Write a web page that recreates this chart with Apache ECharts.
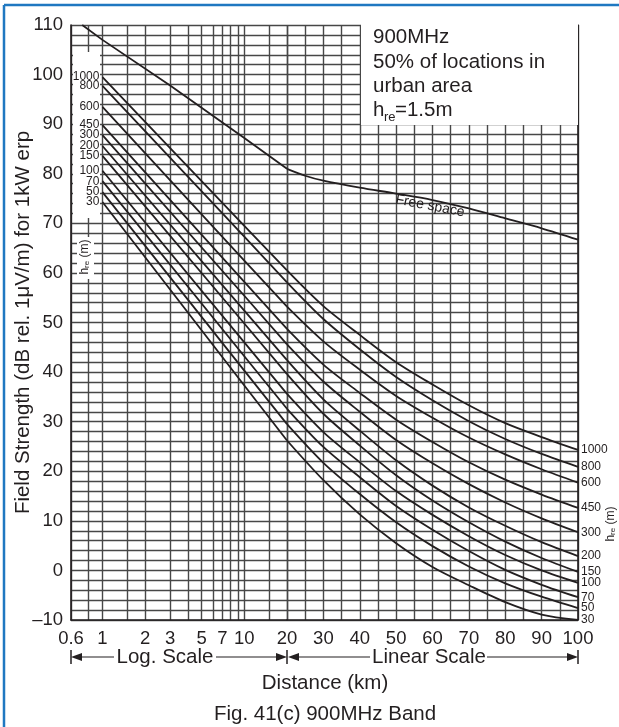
<!DOCTYPE html>
<html>
<head>
<meta charset="utf-8">
<script src="https://cdn.jsdelivr.net/npm/echarts@6/dist/echarts.min.js"></script>
<style>
  html, body { margin: 0; padding: 0; background: #fff; }
  #main { width: 619px; height: 727px; }
</style>
</head>
<body>
<div id="main"></div>
<script>
// base station antenna heights h_re (m), one curve each
var heights = ['1000', '800', '600', '450', '300', '200', '150', '100', '70', '50', '30'];

// log part of the x axis (0.6 .. 20 km)
var logDist = [1, 10, 20];
var logVals = [
  [99.5, 69.5, 60.5],
  [97.7, 67.3, 58.1],
  [93.5, 62.5, 53.2],
  [89.8, 58.2, 48.7],
  [87.8, 55.4, 45.6],
  [85.6, 52.4, 42.4],
  [83.6, 49.8, 39.6],
  [80.6, 46.0, 35.6],
  [78.5, 43.2, 32.6],
  [76.3, 40.3, 29.5],
  [74.3, 37.3, 26.2]
];

// linear part of the x axis (20 .. 100 km)
var linDist = [20, 30, 40, 50, 60, 70, 80, 90, 100];
var linVals = [
  [60.5, 53.3, 47.5, 42.0, 37.5, 33.3, 29.7, 26.9, 24.3],
  [58.1, 50.7, 44.6, 39.0, 34.3, 30.1, 26.5, 23.5, 20.9],
  [53.2, 46.2, 40.5, 35.2, 30.8, 26.8, 23.4, 20.4, 17.7],
  [48.7, 41.5, 35.8, 30.4, 25.9, 21.8, 18.3, 15.3, 12.6],
  [45.6, 38.1, 32.0, 26.3, 21.6, 17.4, 13.7, 10.5, 7.7],
  [42.4, 34.5, 28.2, 22.2, 17.1, 12.7, 9.0, 5.7, 2.9],
  [39.6, 31.6, 25.2, 19.2, 14.1, 9.7, 5.8, 2.5, -0.3],
  [35.6, 27.9, 21.8, 16.0, 11.2, 6.9, 3.1, 0.0, -2.5],
  [32.6, 24.9, 18.8, 13.0, 8.2, 3.9, 0.1, -2.9, -5.4],
  [29.5, 21.7, 15.4, 9.7, 4.9, 0.8, -2.6, -5.3, -7.6],
  [26.2, 18.2, 11.3, 5.5, 0.7, -3.0, -6.4, -8.9, -10.0]
];

// free space curve
var freeLogDist = [0.72, 1, 3, 10, 20];
var freeLogVals = [110, 107, 97.8, 87.2, 81];
var freeLinDist = [20, 25, 30, 40, 50, 60, 70, 80, 90, 100];
var freeLinVals = [81, 79.6, 78.6, 77.2, 76, 74.7, 73, 71, 69, 66.7];

// ticks and labels
var logGrid = [0.6, 0.8, 1, 1.5, 2, 3, 4, 5, 6, 7, 8, 9, 10, 15, 20];
var logLabels = [0.6, 1, 2, 3, 5, 7, 10, 20];
var linLabels = [30, 40, 50, 60, 70, 80, 90, 100];
var yLabels = [-10, 0, 10, 20, 30, 40, 50, 60, 70, 80, 90, 100, 110];

var FONT = 'Liberation Sans, Arial, sans-serif';
var INK = '#231f20';
var GRIDC = '#474747';
var BIG = 20.5;

function pairs(xs, ys) {
  return xs.map(function (x, i) { return [x, ys[i]]; });
}

var series = [];
heights.forEach(function (h, k) {
  var d1 = pairs(logDist, logVals[k]).map(function (p, i) {
    return i === 0 ? { value: p, label: { show: true } } : { value: p };
  });
  series.push({
    name: h, type: 'line', xAxisIndex: 0, yAxisIndex: 0,
    data: d1, symbol: 'circle', symbolSize: 0, showSymbol: true,
    lineStyle: { color: INK, width: 1.8 },
    itemStyle: { color: INK },
    label: { show: false, position: 'left', distance: 3, formatter: h,
             fontSize: 12, fontFamily: FONT, color: INK },
    silent: true
  });
  series.push({
    name: h, type: 'line', xAxisIndex: 1, yAxisIndex: 1,
    data: pairs(linDist, linVals[k]), showSymbol: false,
    smooth: 0.3,
    lineStyle: { color: INK, width: 1.8 },
    endLabel: { show: true, formatter: h, distance: 3,
                fontSize: 12, fontFamily: FONT, color: INK },
    silent: true
  });
});
series.push({
  name: 'Free space', type: 'line', xAxisIndex: 0, yAxisIndex: 0,
  data: pairs(freeLogDist, freeLogVals), showSymbol: false,
  lineStyle: { color: INK, width: 1.8 }, silent: true
});
series.push({
  name: 'Free space', type: 'line', xAxisIndex: 1, yAxisIndex: 1,
  data: pairs(freeLinDist, freeLinVals), showSymbol: false,
  smooth: 0.3,
  lineStyle: { color: INK, width: 1.8 }, silent: true
});

var yCommon = {
  type: 'value', min: -10, max: 110, interval: 2,
  splitLine: { show: true, lineStyle: { color: GRIDC, width: 1.4 } },
  axisTick: { show: false }
};

var chart = echarts.init(document.getElementById('main'), null, { renderer: 'canvas' });
chart.setOption({
  animation: false,
  backgroundColor: '#fff',
  textStyle: { fontFamily: FONT, color: INK },
  grid: [
    { left: 71, top: 25, width: 216, height: 595 },
    { left: 287, top: 25, width: 291, height: 595 }
  ],
  xAxis: [
    {
      type: 'log', logBase: 10, min: 0.6, max: 20, gridIndex: 0,
      axisLine: { show: true, onZero: false, lineStyle: { color: INK, width: 1.6 } },
      axisTick: { show: false, customValues: logGrid },
      axisLabel: { customValues: logLabels, fontSize: 18.5, color: INK, margin: 9,
                   fontFamily: FONT, formatter: function (v) { return String(+(+v).toFixed(1)); } },
      splitLine: { show: true, lineStyle: { color: GRIDC, width: 1.4 } },
      minorSplitLine: { show: false }
    },
    {
      type: 'value', min: 20, max: 100, interval: 5, gridIndex: 1,
      axisLine: { show: true, onZero: false, lineStyle: { color: INK, width: 1.6 } },
      axisTick: { show: false },
      axisLabel: { customValues: linLabels, fontSize: 18.5, color: INK, margin: 9, fontFamily: FONT },
      splitLine: { show: true, lineStyle: { color: GRIDC, width: 1.4 } }
    }
  ],
  yAxis: [
    Object.assign({}, yCommon, {
      gridIndex: 0,
      name: 'Field Strength (dB rel. 1\u03bcV/m) for 1kW erp',
      nameLocation: 'middle', nameGap: 37, nameMoveOverlap: false,
      nameTextStyle: { fontSize: BIG, color: INK, fontFamily: FONT },
      axisLine: { show: true, lineStyle: { color: INK, width: 1.6 } },
      axisLabel: {
        customValues: yLabels, fontSize: 18.5, color: INK, margin: 8, fontFamily: FONT,
        formatter: function (v) { return v < 0 ? '\u2013' + Math.abs(v) : String(v); }
      }
    }),
    Object.assign({}, yCommon, {
      gridIndex: 1, position: 'right',
      axisLine: { show: true, lineStyle: { color: INK, width: 1.6 } },
      axisLabel: { show: false }
    })
  ],
  series: series,
  graphic: [
    // blue frame of the figure
    { type: 'line', z: 10, shape: { x1: 4, y1: 5, x2: 619, y2: 5 },
      style: { stroke: '#1f78c1', lineWidth: 2.5 } },
    { type: 'line', z: 10, shape: { x1: 4, y1: 5, x2: 4, y2: 727 },
      style: { stroke: '#1f78c1', lineWidth: 2.5 } },
    // white label panels on the left edge of the plot
    { type: 'rect', z: 1, shape: { x: 73, y: 52, width: 27, height: 166 },
      style: { fill: '#fff' } },
    { type: 'rect', z: 1, shape: { x: 77, y: 237, width: 17, height: 42 },
      style: { fill: '#fff' } },
    { type: 'text', z: 5, x: 85, y: 257, rotation: Math.PI / 2,
      style: { text: 'h{s|re} (m)', fontSize: 12, fontFamily: FONT, fill: INK,
               align: 'center', verticalAlign: 'middle',
               rich: { s: { fontSize: 8, fontFamily: FONT, fill: INK, padding: [4, 0, 0, 0] } } } },
    { type: 'text', z: 5, x: 611, y: 524, rotation: Math.PI / 2,
      style: { text: 'h{s|re} (m)', fontSize: 12, fontFamily: FONT, fill: INK,
               align: 'center', verticalAlign: 'middle',
               rich: { s: { fontSize: 8, fontFamily: FONT, fill: INK, padding: [4, 0, 0, 0] } } } },
    // info box
    { type: 'rect', z: 1, shape: { x: 361, y: 24, width: 217, height: 101 },
      style: { fill: '#fff' } },
    { type: 'text', z: 5, x: 373, y: 37,
      style: { text: '900MHz', fontSize: BIG, fontFamily: FONT, fill: INK, verticalAlign: 'middle' } },
    { type: 'text', z: 5, x: 373, y: 62,
      style: { text: '50% of locations in', fontSize: BIG, fontFamily: FONT, fill: INK, verticalAlign: 'middle' } },
    { type: 'text', z: 5, x: 373, y: 86,
      style: { text: 'urban area', fontSize: BIG, fontFamily: FONT, fill: INK, verticalAlign: 'middle' } },
    { type: 'text', z: 5, x: 373, y: 110,
      style: { text: 'h', fontSize: BIG, fontFamily: FONT, fill: INK, verticalAlign: 'middle' } },
    { type: 'text', z: 5, x: 384, y: 117,
      style: { text: 're', fontSize: 13, fontFamily: FONT, fill: INK, verticalAlign: 'middle' } },
    { type: 'text', z: 5, x: 395, y: 110,
      style: { text: '=1.5m', fontSize: BIG, fontFamily: FONT, fill: INK, verticalAlign: 'middle' } },
    // free space label
    { type: 'text', z: 5, x: 430, y: 206, rotation: -0.19,
      style: { text: 'Free space', fontSize: 14, fontFamily: FONT, fill: INK,
               align: 'center', verticalAlign: 'middle' } },
    // scale arrows
    { type: 'line', z: 5, shape: { x1: 71, y1: 650, x2: 71, y2: 664 }, style: { stroke: INK, lineWidth: 1.5 } },
    { type: 'polygon', z: 5, shape: { points: [[71, 657], [82, 653], [82, 661]] }, style: { fill: INK } },
    { type: 'line', z: 5, shape: { x1: 80, y1: 657, x2: 114, y2: 657 }, style: { stroke: INK, lineWidth: 1.2 } },
    { type: 'text', z: 5, x: 165, y: 657,
      style: { text: 'Log. Scale', fontSize: BIG, fontFamily: FONT, fill: INK, align: 'center', verticalAlign: 'middle' } },
    { type: 'line', z: 5, shape: { x1: 216, y1: 657, x2: 278, y2: 657 }, style: { stroke: INK, lineWidth: 1.2 } },
    { type: 'polygon', z: 5, shape: { points: [[287, 657], [276, 653], [276, 661]] }, style: { fill: INK } },
    { type: 'line', z: 5, shape: { x1: 287, y1: 650, x2: 287, y2: 664 }, style: { stroke: INK, lineWidth: 1.5 } },
    { type: 'polygon', z: 5, shape: { points: [[288, 657], [299, 653], [299, 661]] }, style: { fill: INK } },
    { type: 'line', z: 5, shape: { x1: 297, y1: 657, x2: 370, y2: 657 }, style: { stroke: INK, lineWidth: 1.2 } },
    { type: 'text', z: 5, x: 429, y: 657,
      style: { text: 'Linear Scale', fontSize: BIG, fontFamily: FONT, fill: INK, align: 'center', verticalAlign: 'middle' } },
    { type: 'line', z: 5, shape: { x1: 487, y1: 657, x2: 570, y2: 657 }, style: { stroke: INK, lineWidth: 1.2 } },
    { type: 'polygon', z: 5, shape: { points: [[578, 657], [567, 653], [567, 661]] }, style: { fill: INK } },
    { type: 'line', z: 5, shape: { x1: 578, y1: 650, x2: 578, y2: 664 }, style: { stroke: INK, lineWidth: 1.5 } },
    // titles below
    { type: 'text', z: 5, x: 325, y: 683,
      style: { text: 'Distance (km)', fontSize: BIG, fontFamily: FONT, fill: INK, align: 'center', verticalAlign: 'middle' } },
    { type: 'text', z: 5, x: 325, y: 714,
      style: { text: 'Fig. 41(c) 900MHz Band', fontSize: BIG, fontFamily: FONT, fill: INK, align: 'center', verticalAlign: 'middle' } }
  ]
});
</script>
</body>
</html>
